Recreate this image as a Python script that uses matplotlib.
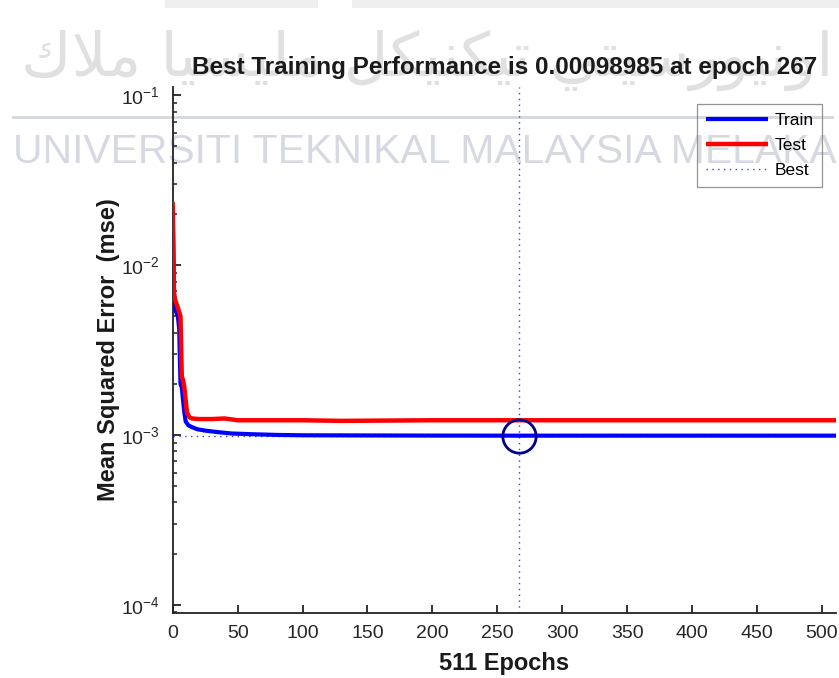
import numpy as np
import matplotlib
matplotlib.use("Agg")
import matplotlib.pyplot as plt
from matplotlib.lines import Line2D
from matplotlib.patches import Rectangle
from matplotlib.ticker import FixedLocator, LogLocator, FuncFormatter, NullFormatter

# ---- training record: mean squared error per epoch ----
train_epochs = [0, 1, 2, 3, 4, 5, 6, 7, 8, 9, 10, 12, 15, 19, 25, 34, 45, 60, 80,
                100, 150, 200, 267, 350, 450, 511]
train_mse = [0.0200, 0.0068, 0.0055, 0.0052, 0.0050, 0.0042, 0.0020, 0.0019, 0.0016,
             0.00135, 0.00120, 0.00114, 0.00111, 0.00108, 0.00106, 0.00104, 0.00102,
             0.00101, 0.00100, 0.000995, 0.000993, 0.000991, 0.00098985, 0.00099,
             0.00099, 0.00099]

test_epochs = [0, 1, 2, 3, 4, 5, 6, 7, 8, 9, 10, 11, 13, 15, 20, 30, 40, 50, 70,
               100, 130, 200, 267, 350, 450, 511]
test_mse = [0.0235, 0.0068, 0.0062, 0.0059, 0.0056, 0.0053, 0.0050, 0.0022, 0.0021,
            0.0019, 0.0016, 0.00135, 0.00127, 0.00125, 0.00124, 0.00124, 0.00125,
            0.00122, 0.00122, 0.00122, 0.00121, 0.00122, 0.00122, 0.00122, 0.00122,
            0.00122]

best_epoch = 267
best_perf = 0.00098985
n_epochs = 511

x_ticks = [0, 50, 100, 150, 200, 250, 300, 350, 400, 450, 500]
y_ticks = [1e-4, 1e-3, 1e-2, 1e-1]
y_limits = (8.97e-5, 0.1125)

legend_labels = ["Train", "Test", "Best"]
title_text = f"Best Training Performance is {best_perf:.8f} at epoch {best_epoch}"
xlabel_text = f"{n_epochs} Epochs"
ylabel_text = "Mean Squared Error  (mse)"

watermark_latin = "UNIVERSITI TEKNIKAL MALAYSIA MELAKA"
# Jawi name, written with Arabic presentation forms (logical order)
jawi_words = [
    "\uFE8D\uFEED\uFEE7\uFEF4\uFEEE\uFEAD\uFEB3\uFEF4\uFE98\uFEF2",   # اونيورسيتي
    "\uFE97\uFEF4\uFEDC\uFEE8\uFEF4\uFEDC\uFEDE",                     # تيكنيكل
    "\uFEE3\uFEE0\uFEF4\uFEB4\uFEF4\uFE8E",                           # مليسيا
    "\uFEE3\uFEFC\uFED9",                                             # ملاك
]
watermark_jawi = " ".join(jawi_words)[::-1]   # visual (left-to-right) order

# ---- styling ----
plt.rcParams["font.family"] = ["Liberation Sans", "DejaVu Sans"]
plt.rcParams["mathtext.fontset"] = "custom"
plt.rcParams["mathtext.rm"] = "Liberation Sans"
plt.rcParams["mathtext.it"] = "Liberation Sans:italic"
plt.rcParams["mathtext.bf"] = "Liberation Sans:bold"

W, H = 839, 678
fig = plt.figure(figsize=(W / 100, H / 100), dpi=100)
fig.patch.set_facecolor("white")

# faint background print
fig.patches.append(Rectangle((165 / W, 1 - 8 / H), 153 / W, 8 / H, transform=fig.transFigure,
                             facecolor="#efefef", edgecolor="none", zorder=-3))
fig.patches.append(Rectangle((352 / W, 1 - 8 / H), 487 / W, 8 / H, transform=fig.transFigure,
                             facecolor="#efefef", edgecolor="none", zorder=-3))
fig.lines.append(Line2D([13 / W, 832 / W], [1 - 117 / H, 1 - 117 / H], transform=fig.transFigure,
                        color="#d3d6dc", lw=2.0, zorder=-2))

t_lat = fig.text(13 / W, 1 - 163 / H, watermark_latin, fontsize=29, color="#d6d9e2",
                 ha="left", va="baseline", zorder=-2, family=["Liberation Sans"])
t_jaw = fig.text(21 / W, 1 - 76 / H, watermark_jawi, fontsize=50, color="#e0e0e0",
                 ha="left", va="baseline", zorder=-2, family=["DejaVu Sans"])

fig.canvas.draw()
r = fig.canvas.get_renderer()
for t, target in ((t_lat, 836 - 13), (t_jaw, 835 - 21)):
    bb = t.get_window_extent(renderer=r)
    t.set_fontsize(t.get_fontsize() * target / bb.width)

ax_left, ax_right, ax_top, ax_bottom = 172.7, 836.3, 86.7, 612.7
ax = fig.add_axes([ax_left / W, 1 - ax_bottom / H, (ax_right - ax_left) / W,
                   (ax_bottom - ax_top) / H])
ax.set_facecolor("none")

ax.set_yscale("log")
ax.set_xlim(0, n_epochs)
ax.set_ylim(*y_limits)

ax.plot(train_epochs, train_mse, color="#0000ff", lw=3.0, solid_capstyle="butt",
        label=legend_labels[0], zorder=3)
ax.plot(test_epochs, test_mse, color="#ff0000", lw=3.2, solid_capstyle="butt",
        label=legend_labels[1], zorder=4)

best_style = dict(color="#3b3bf0", lw=1.0, linestyle=(0, (1, 3.2)))
ax.axvline(best_epoch, label=legend_labels[2], zorder=2, **best_style)
ax.axhline(best_perf, zorder=2, **best_style)
ax.plot([best_epoch], [best_perf], marker="o", markersize=24, markerfacecolor="none",
        markeredgecolor="#00008b", markeredgewidth=2.0, linestyle="none", zorder=5)

for side in ("top", "right"):
    ax.spines[side].set_visible(False)
for side in ("left", "bottom"):
    ax.spines[side].set_linewidth(1.3)
    ax.spines[side].set_color("#222222")

ax.xaxis.set_major_locator(FixedLocator(x_ticks))
ax.yaxis.set_major_locator(FixedLocator(y_ticks))
ax.yaxis.set_minor_locator(LogLocator(base=10, subs=np.arange(2, 10), numticks=20))
ax.yaxis.set_minor_formatter(NullFormatter())
ax.yaxis.set_major_formatter(FuncFormatter(lambda v, p: f"10$^{{{int(round(np.log10(v)))}}}$"))

ax.tick_params(axis="both", which="major", direction="in", length=5.8, width=1.3,
               colors="#222222", labelsize=14, labelcolor="#262626", pad=9)
ax.tick_params(axis="y", which="minor", direction="in", length=3.0, width=1.1,
               colors="#222222")

ax.set_title(title_text, fontsize=17.5, fontweight="bold", color="#1a1a1a", pad=9)
ax.set_xlabel(xlabel_text, fontsize=17, fontweight="bold", color="#1a1a1a", labelpad=7)
ax.set_ylabel(ylabel_text, fontsize=17, fontweight="bold", color="#1a1a1a", labelpad=1)

leg = ax.legend(loc="upper right", bbox_to_anchor=((822 - ax_left) / (ax_right - ax_left),
                (ax_bottom - 104) / (ax_bottom - ax_top)), borderaxespad=0,
                fontsize=12.5, handlelength=3.6, handletextpad=0.35, labelspacing=0.58,
                borderpad=0.5, fancybox=False)
leg.get_frame().set_facecolor("none")
leg.get_frame().set_edgecolor("#7a7a7a")
leg.get_frame().set_linewidth(0.9)

fig.savefig("out.png", dpi=100, facecolor="white")
